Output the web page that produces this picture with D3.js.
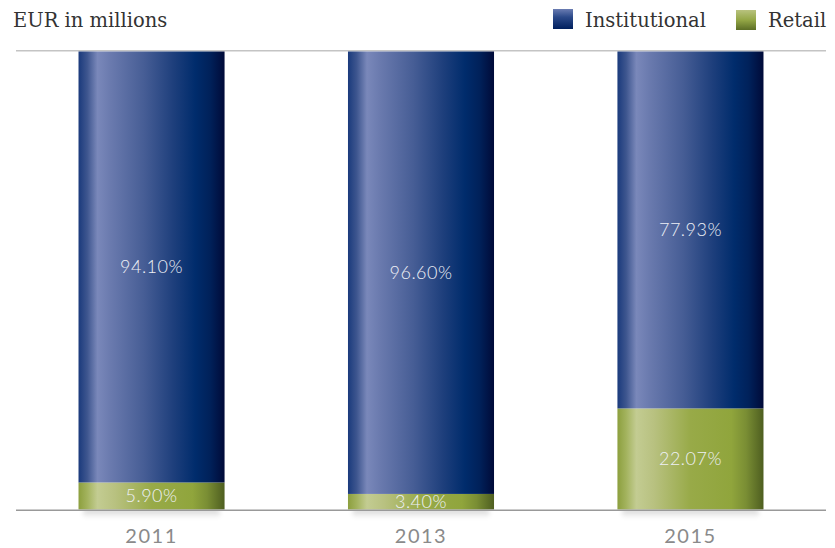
<!DOCTYPE html>
<html><head><meta charset="utf-8">
<script src="https://cdn.jsdelivr.net/npm/d3@7"></script>
<style>body{margin:0;background:#fff}svg{display:block}</style>
</head><body>
<svg id="c" width="835" height="548"></svg>
<script>
const years = ["2011", "2013", "2015"];
const institutional = [94.10, 96.60, 77.93];
const retail = [5.90, 3.40, 22.07];
const seriesNames = ["Institutional", "Retail"];
const yDomain = [0, 100];

const svg = d3.select("#c");
const defs = svg.append("defs");

function hGrad(id, stops) {
  const g = defs.append("linearGradient").attr("id", id).attr("x1", "0%").attr("x2", "100%").attr("y1", "0%").attr("y2", "0%");
  stops.forEach(s => g.append("stop").attr("offset", s[0]).attr("stop-color", s[1]));
}
function vGrad(id, stops) {
  const g = defs.append("linearGradient").attr("id", id).attr("x1", "0%").attr("x2", "0%").attr("y1", "0%").attr("y2", "100%");
  stops.forEach(s => g.append("stop").attr("offset", s[0]).attr("stop-color", s[1]).attr("stop-opacity", s[2] === undefined ? 1 : s[2]));
}
hGrad("gBlue", [["0%", "#1a3a7c"], ["6%", "#3e568f"], ["13%", "#7a88ba"], ["22%", "#6a7aae"], ["45%", "#465d95"], ["65%", "#1e3f7c"], ["80%", "#002c6c"], ["90%", "#00215a"], ["100%", "#000a38"]]);
hGrad("gGreen", [["0%", "#8c9f3e"], ["6%", "#a3b35e"], ["13%", "#c3cc92"], ["25%", "#b8c180"], ["50%", "#98aa48"], ["78%", "#90a53c"], ["88%", "#7a8e34"], ["100%", "#4e5e20"]]);
vGrad("lBlue", [["0%", "#6a7cb2"], ["40%", "#2c4a8a"], ["100%", "#00205e"]]);
vGrad("lGreen", [["0%", "#b8c27e"], ["50%", "#94a746"], ["100%", "#5c6e26"]]);
vGrad("gShadow", [["0%", "#000", 0.18], ["100%", "#000", 0]]);
const f = defs.append("filter").attr("id", "blur").attr("x", "-20%").attr("y", "-50%").attr("width", "140%").attr("height", "200%");
f.append("feGaussianBlur").attr("stdDeviation", "2");

const x = d3.scaleBand().domain(years).range([16, 826]).paddingInner(0.458).paddingOuter(0.232);
const y = d3.scaleLinear().domain(yDomain).range([509.5, 51.5]);

// shadows
svg.append("g").selectAll("rect").data(years).join("rect")
  .attr("x", d => x(d) + 4).attr("width", x.bandwidth() - 8)
  .attr("y", y(0) - 1).attr("height", 10)
  .attr("rx", 6)
  .attr("fill", "url(#gShadow)").attr("filter", "url(#blur)");

// top line
svg.append("line").attr("x1", 16).attr("x2", 826).attr("y1", y(100) - 0.8).attr("y2", y(100) - 0.8)
  .attr("stroke", "#c4c4c4").attr("stroke-width", 1.6);

const stackData = years.map((yr, i) => ({ year: yr, Institutional: institutional[i], Retail: retail[i] }));
const stack = d3.stack().keys(["Retail", "Institutional"])(stackData);
const fills = { Institutional: "url(#gBlue)", Retail: "url(#gGreen)" };

const layers = svg.append("g").selectAll("g").data(stack).join("g").attr("fill", d => fills[d.key]);
layers.selectAll("rect").data(d => d).join("rect")
  .attr("x", d => x(d.data.year)).attr("width", x.bandwidth())
  .attr("y", d => y(d[1])).attr("height", d => y(d[0]) - y(d[1]));

// value labels
const lbl = svg.append("g").attr("font-family", "Lato, sans-serif").attr("font-weight", 300)
  .attr("font-size", 18).attr("fill", "#eef0f6").attr("text-anchor", "middle");
stack.forEach(layer => {
  lbl.append("g").selectAll("text").data(layer).join("text")
    .attr("x", d => x(d.data.year) + x.bandwidth() / 2)
    .attr("y", d => (y(d[0]) + y(d[1])) / 2)
    .attr("dy", "0.36em")
    .attr("letter-spacing", "0.5px")
    .text(d => (d[1] - d[0]).toFixed(2) + "%");
});

// bottom axis line
svg.append("line").attr("x1", 16).attr("x2", 826).attr("y1", y(0) + 0.8).attr("y2", y(0) + 0.8)
  .attr("stroke", "#999").attr("stroke-width", 1.6);

// x axis labels
const xAxis = d3.axisBottom(x).tickSize(0).tickPadding(0);
const ax = svg.append("g").attr("transform", `translate(0,${y(0) + 27})`).call(xAxis);
ax.select(".domain").remove();
ax.selectAll("text").attr("font-family", "Lato, sans-serif").attr("font-size", 20).attr("font-weight", 400)
  .attr("fill", "#8a8a8a").attr("letter-spacing", "1.5px").attr("dy", "0.3em");

// title
svg.append("text").attr("x", 13).attr("y", 27).attr("font-family", "DejaVu Serif, serif")
  .attr("font-size", 19.5).attr("fill", "#333").text("EUR in millions");

// legend
const legendX = [553, 736];
const legendFill = ["url(#lBlue)", "url(#lGreen)"];
const lg = svg.append("g");
seriesNames.forEach((name, i) => {
  lg.append("rect").attr("x", legendX[i]).attr("y", 9 + i).attr("width", 20).attr("height", 20).attr("fill", legendFill[i]);
  lg.append("text").attr("x", legendX[i] + 32).attr("y", 27).attr("font-family", "DejaVu Serif, serif")
    .attr("font-size", 19.5).attr("fill", "#333").text(name);
});
</script>
</body></html>
